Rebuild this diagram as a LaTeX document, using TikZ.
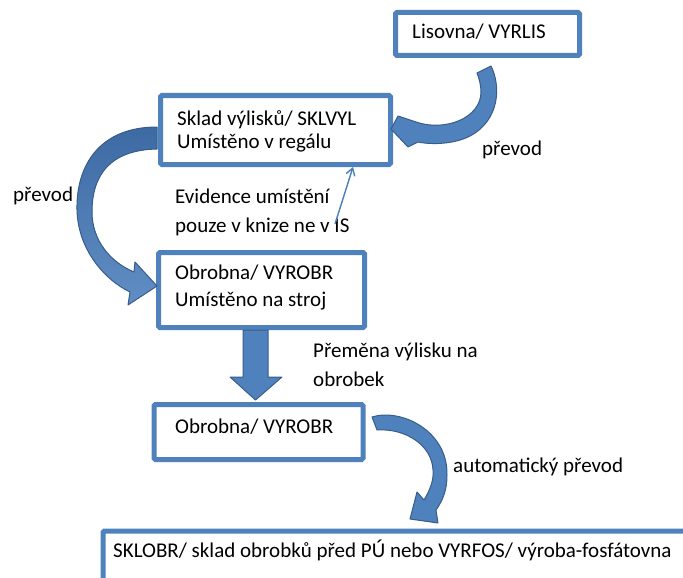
\documentclass[tikz,border=0pt]{standalone}
\usepackage{fontspec}
\setmainfont{Carlito}
\usetikzlibrary{arrows.meta}

\definecolor{boxblue}{HTML}{4F81BD}
\definecolor{arrowblue}{HTML}{4F81BD}
\definecolor{arrowdark}{HTML}{3D6AA3}
\definecolor{arrowedge}{HTML}{385D8A}
\definecolor{thinblue}{HTML}{4A7EBB}

\tikzset{
  box/.style={draw=boxblue, line width=5pt, rounded corners=1.5pt, fill=white,
              inner sep=0pt, anchor=center},
  blockarrow/.style={fill=arrowblue, draw=arrowedge, line width=1pt, line join=round},
  shadedarrow/.style={blockarrow, top color=arrowdark, bottom color=arrowblue!90!white},
  txt/.style={anchor=base west, inner sep=0pt, align=left},
  thinarrow/.style={draw=thinblue, line width=1.4pt,
                    -{Straight Barb[length=7pt,width=9pt,line width=1.4pt]}},
}
\newcommand{\txtsize}[1]{\fontsize{21}{#1}\selectfont}

\begin{document}
\begin{tikzpicture}[x=1pt, y=-1pt]
  \useasboundingbox (0,0) rectangle (683,578);

  % ---- boxes ----
  \node[box, minimum width=184pt, minimum height=43pt] (lis)   at (487.5,34)  {};
  \node[box, minimum width=230pt, minimum height=69pt] (sklad) at (275.5,130) {};
  \node[box, minimum width=206pt, minimum height=75pt] (obr1)  at (261.5,290) {};
  \node[box, minimum width=209pt, minimum height=55pt] (obr2)  at (258.5,432) {};
  \node[box, minimum width=620pt, minimum height=90pt, anchor=north west] (sklobr) at (100.5,528.5) {};

  % ---- box texts (multi-line nodes sit on the baseline of their last line) ----
  \node[txt, font=\txtsize{24}] (tlis)   at (412,39)  {Lisovna/ VYRLIS};
  \node[txt, font=\txtsize{23}] (tsklad) at (177,148) {Sklad výlisků/ SKLVYL\\Umístěno v regálu};
  \node[txt, font=\txtsize{27}] (tobr1)  at (175,306) {Obrobna/ VYROBR\\Umístěno na stroj};
  \node[txt, font=\txtsize{24}] (tobr2)  at (175,433) {Obrobna/ VYROBR};
  \node[txt, font=\txtsize{24}] (tsklobr) at (113,557) {SKLOBR/ sklad obrobků před PÚ nebo VYRFOS/ výroba-fosfátovna};

  % ---- side labels ----
  \node[txt, font=\txtsize{24}] (lprev1) at (482,155) {převod};
  \node[txt, font=\txtsize{24}] (lprev2) at (13,201)  {převod};
  \node[txt, font=\txtsize{29}] (levid)  at (175,232) {Evidence umístění\\pouze v knize ne v IS};
  \node[txt, font=\txtsize{29}] (lprem)  at (313,386) {Přeměna výlisku na\\obrobek};
  \node[txt, font=\txtsize{24}] (lauto)  at (453,472) {automatický převod};

  % ---- curved block arrow: Lisovna -> Sklad ----
  \path[blockarrow] (491,66) .. controls (501,86) and (500,120) .. (470,136)
        .. controls (455,144) and (432,145) .. (418,142)
        -- (408,147) -- (391,129) -- (398,116) -- (416,122)
        .. controls (445,132) and (481,118) .. (481,92)
        .. controls (481,85) and (479,78) .. (477,73) -- cycle;

  % ---- curved block arrow: Sklad -> Obrobna ----
  \path[shadedarrow] (157,127) .. controls (100,127) and (76,165) .. (77,210)
        .. controls (78,250) and (105,280) .. (130,292)
        -- (128,305) -- (157,286) -- (135,262) -- (134,272)
        .. controls (110,262) and (92,240) .. (92,212)
        .. controls (92,175) and (110,150) .. (157,149) -- cycle;

  % ---- straight block arrow: Obrobna -> Obrobna ----
  \path[blockarrow] (243,330) -- (268,330) -- (268,377) -- (282,377)
        -- (255.5,400) -- (230,377) -- (243,377) -- cycle;

  % ---- curved block arrow: Obrobna -> SKLOBR ----
  \path[blockarrow] (372,417) .. controls (400,408) and (448,430) .. (447,475)
        .. controls (447,490) and (443,500) .. (436,510)
        -- (438,523) -- (410,519) -- (417,492) -- (424,500)
        .. controls (430,490) and (434,480) .. (433,470)
        .. controls (432,445) and (405,428) .. (377,430) -- cycle;

  % ---- thin arrow from the note up to the Sklad box ----
  \coordinate (evtail) at (335,224);
  \coordinate (evtip)  at (353,167);
  \draw[thinarrow] (evtail) -- (evtip);
\end{tikzpicture}
\end{document}
